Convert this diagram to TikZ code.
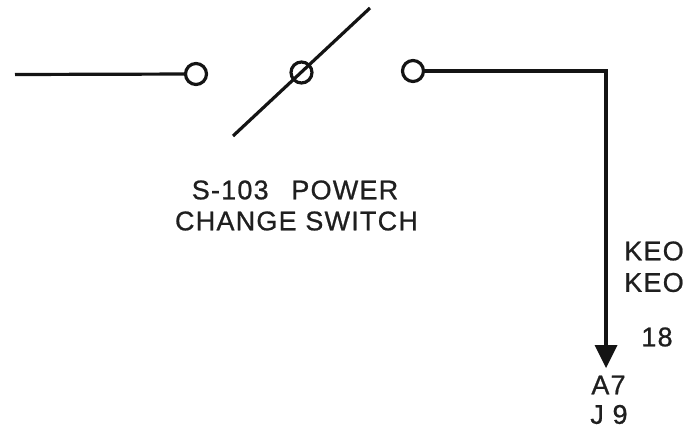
\documentclass[tikz,border=0pt]{standalone}
\usepackage{fontspec}
\setmainfont{Liberation Sans}
\newfontfamily\labfont[RawFeature={embolden=0.8},LetterSpace=4.5]{Liberation Sans}
\begin{document}
\begin{tikzpicture}[x=1pt,y=-1pt,
  lab/.style={inner sep=0pt,font=\labfont\fontsize{27}{31}\selectfont,text=black!88,align=center},
  term/.style={circle,draw=black!92,line width=3.2pt,minimum size=21pt,inner sep=0pt},
  wire/.style={line width=3.2pt,draw=black!92}]
\useasboundingbox (0,0) rectangle (686,428);
\coordinate (w0) at (15,74.5);
\node[term] (t1) at (196,74) {};
\coordinate (s1) at (233,136);
\coordinate (s2) at (370,8);
\node[term] (t2) at (301.5,72.5) {};
\node[term] (t3) at (413,71) {};
\coordinate (c) at (606,70);
\coordinate (e) at (606,360);
\draw[wire] (w0) -- (t1);
\draw[wire] (s1) -- (s2);
\draw[wire,line join=miter] (t3) -- (t3 -| c) -- (e);
\fill[black!92] (594.5,345) -- (617.5,345) -- (606,368) -- cycle;
\node[lab] (l1) at (295,190) {S-103\hspace{14pt} POWER};
\node[lab] (l2) at (296.5,221) {CHANGE SWITCH};
\node[lab] (k1) at (654,251) {KEO};
\node[lab] (k2) at (654,282.5) {KEO};
\node[lab] (n) at (657,337) {18};
\node[lab] (a) at (608.5,385) {A7};
\node[lab] (j) at (609,414.5) {J 9};
\end{tikzpicture}
\end{document}
